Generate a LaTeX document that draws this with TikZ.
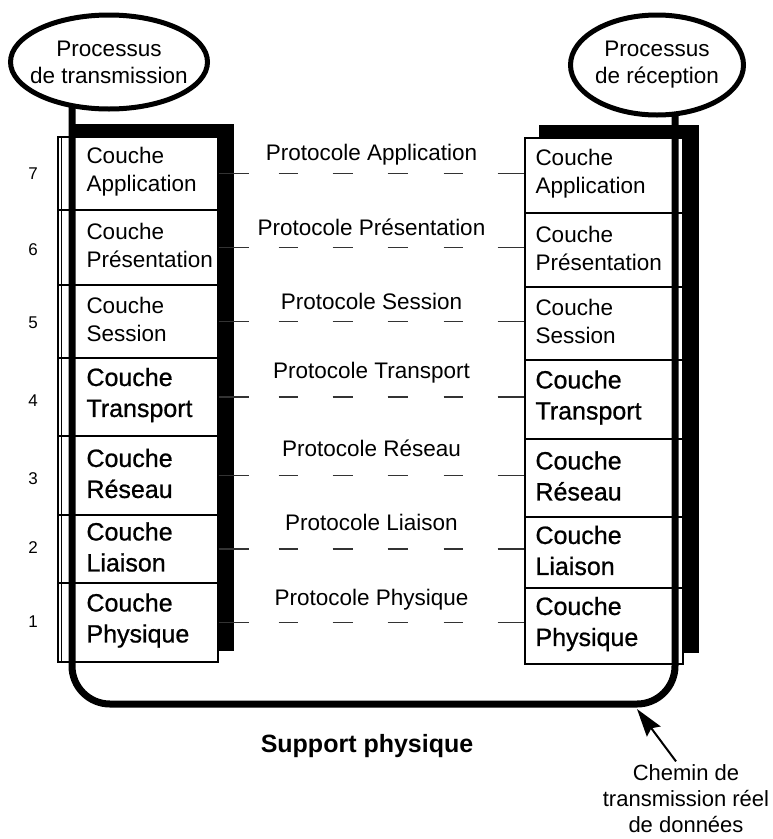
\documentclass[tikz,border=0pt]{standalone}
\usepackage{fontspec}
\setmainfont{Liberation Sans}
\usetikzlibrary{arrows.meta,shapes.geometric}

\pgfdeclarelayer{back}
\pgfdeclarelayer{front}
\pgfsetlayers{back,main,front}

\newcommand\smallcouche{\fontsize{22.5}{28}\selectfont}
\newcommand\bigcouche{\fontsize{25}{31}\selectfont\addfontfeatures{FakeBold=0.8}}

\tikzset{
  bubble/.style={ellipse, draw, line width=5pt, fill=white, align=center,
    inner xsep=-30pt, inner ysep=0pt, font=\fontsize{22.5}{27}\selectfont},
  layerbox/.style={draw, line width=1.4pt, fill=white, inner sep=0pt},
  layertext/.style={anchor=west, align=left, inner sep=0pt},
  layerno/.style={font=\fontsize{17}{20}\selectfont},
  protocol/.style={line width=1.6pt, black!80,
    dash pattern=on 30pt off 30pt on 19pt off 35pt on 20pt off 35pt on 20pt off 36pt on 19pt off 35pt on 28pt off 20pt},
  protolabel/.style={font=\fontsize{22.5}{27}\selectfont, text=black},
  link/.style={line width=7pt, rounded corners=38pt},
  pointer/.style={line width=2pt, -{Stealth[length=28pt, width=17pt, inset=4pt]}},
}

\begin{document}
\begin{tikzpicture}[x=1pt, y=-1pt]
  \useasboundingbox (0,0) rectangle (773,839);

  % the two processes
  \begin{pgfonlayer}{front}
    \node[bubble, minimum width=197, minimum height=94] (TX) at (109,62) {Processus\\de transmission};
    \node[bubble, minimum width=173, minimum height=100] (RX) at (657,65) {Processus\\de réception};
  \end{pgfonlayer}

  % the seven layers on each side
  \foreach \n/\lt/\lb/\rt/\rb/\no/\txt/\fs in {
      7/137/210/138/213/174/{Couche\\Application}/\smallcouche,
      6/210/285/213/287/250/{Couche\\Présentation}/\smallcouche,
      5/285/358/287/360/323/{Couche\\Session}/\smallcouche,
      4/358/436/360/439/401/{Couche\\Transport}/\bigcouche,
      3/436/515/439/517/479/{Couche\\Réseau}/\bigcouche,
      2/515/583/517/588/548/{Couche\\Liaison}/\bigcouche,
      1/583/662/588/664/622/{Couche\\Physique}/\bigcouche} {
    \pgfmathsetmacro\lmid{(\lt+\lb)/2}
    \pgfmathsetmacro\rmid{(\rt+\rb)/2}
    \node[layerbox, minimum width=160, minimum height=\lb-\lt] (L\n) at (138,\lmid) {};
    \node[layertext, font=\fs] (Lt\n) at ([xshift=29, yshift=2]L\n.west) {\txt};
    \node[layerbox, minimum width=158, minimum height=\rb-\rt] (R\n) at (604,\rmid) {};
    \node[layertext, font=\fs] (Rt\n) at ([xshift=11, yshift=2]R\n.west) {\txt};
    \node[layerno] (N\n) at (33,\no) {\n};
  }
  \draw[line width=0.8pt] ([xshift=4]L7.north west) -- ([xshift=4]L1.south west);

  % black shadows behind both stacks
  \begin{pgfonlayer}{back}
    \fill ([shift={(15,-12)}]L1.south west) rectangle ([shift={(15,-12)}]L7.north east);
    \fill ([shift={(15,-12)}]R1.south west) rectangle ([shift={(15,-12)}]R7.north east);
  \end{pgfonlayer}

  % peer protocols
  \foreach \n/\p/\up in {7/Application/19, 6/Présentation/20, 5/Session/20,
      4/Transport/24, 3/Réseau/27, 2/Liaison/27, 1/Physique/23}
    \draw[protocol] (L\n.east) -- (L\n.east -| R\n.west)
      node[protolabel, midway, yshift=\up] (P\n) {Protocole \p};

  % real data path
  \coordinate (lbend) at (72,704);
  \coordinate (rbend) at (675,704);
  \draw[link] (lbend |- TX.center) -- (lbend) -- (rbend) -- (rbend |- RX.center);

  \node[font=\bfseries\fontsize{25}{30}\selectfont] (medium) at (367,746) {Support physique};
  \node[align=center, font=\fontsize{22}{26}\selectfont] (chemin) at (686,799) {Chemin de\\transmission réel\\de données};
  \coordinate (hit) at (637,709);
  \draw[pointer] ([xshift=-10]chemin.north) -- (hit);
\end{tikzpicture}
\end{document}
